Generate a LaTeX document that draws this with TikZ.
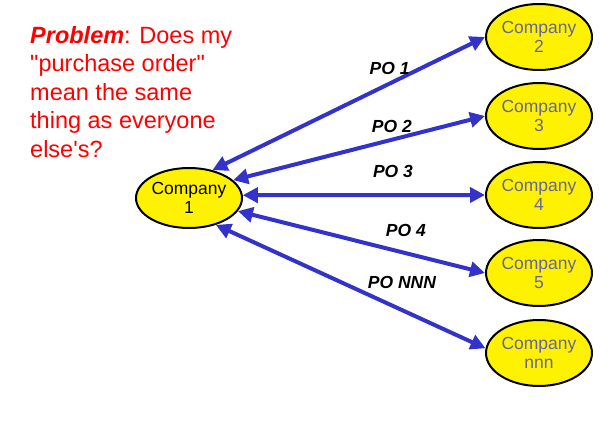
\documentclass[tikz,border=0pt]{standalone}
\usepackage{fontspec}
\setmainfont{Liberation Sans}[Ligatures=TeXOff]
\usetikzlibrary{arrows.meta,shapes.geometric}
\definecolor{poblue}{RGB}{51,51,204}
\definecolor{cogray}{RGB}{100,100,160}
\begin{document}
\begin{tikzpicture}[x=1pt, y=-1pt, >={Triangle[length=15pt,width=15pt]},
    company/.style={ellipse, draw, line width=2pt, fill=yellow, inner sep=0pt,
        minimum width=106pt, minimum height=66pt, align=center,
        text=cogray, font=\fontsize{17.5}{19.5}\selectfont},
    link/.style={<->, poblue, line width=4pt},
    po/.style={font=\fontsize{17.5}{19}\selectfont\bfseries\itshape, inner sep=0pt, text=black}]
\useasboundingbox (0,0) rectangle (611,431);

\node[anchor=north west, align=left, text=red, inner sep=0pt,
    font=\fontsize{23.5}{28.5}\selectfont] (problem) at (30,26)
    {\textbf{\textit{Problem}}: Does my\\"purchase order"\\mean the same\\thing as everyone\\else's?};

\node[company, text=black, minimum height=60pt] (c1) at (189,198) {Company\\1};
\node[company] (c2) at (539,37) {Company\\2};
\node[company] (c3) at (539,116) {Company\\3};
\node[company] (c4) at (539,195) {Company\\4};
\node[company] (c5) at (539,273) {Company\\5};
\node[company] (cn) at (539,353) {Company\\nnn};

\draw[link] (c1.50) -- node[po, above=7pt, pos=.65]{PO 1} (c2.west);
\draw[link] (c1.22) -- node[po, above=5pt, pos=.63]{PO 2} (c3.west);
\draw[link] (c1.3) -- node[po, above=15pt, pos=.62]{PO 3} (c4.west);
\draw[link] (c1.-15) -- node[po, above=15pt, pos=.68]{PO 4} (c5.west);
\draw[link] (c1.-45) -- node[po, above=19pt, pos=.69]{PO NNN} (cn.175);
\end{tikzpicture}
\end{document}
